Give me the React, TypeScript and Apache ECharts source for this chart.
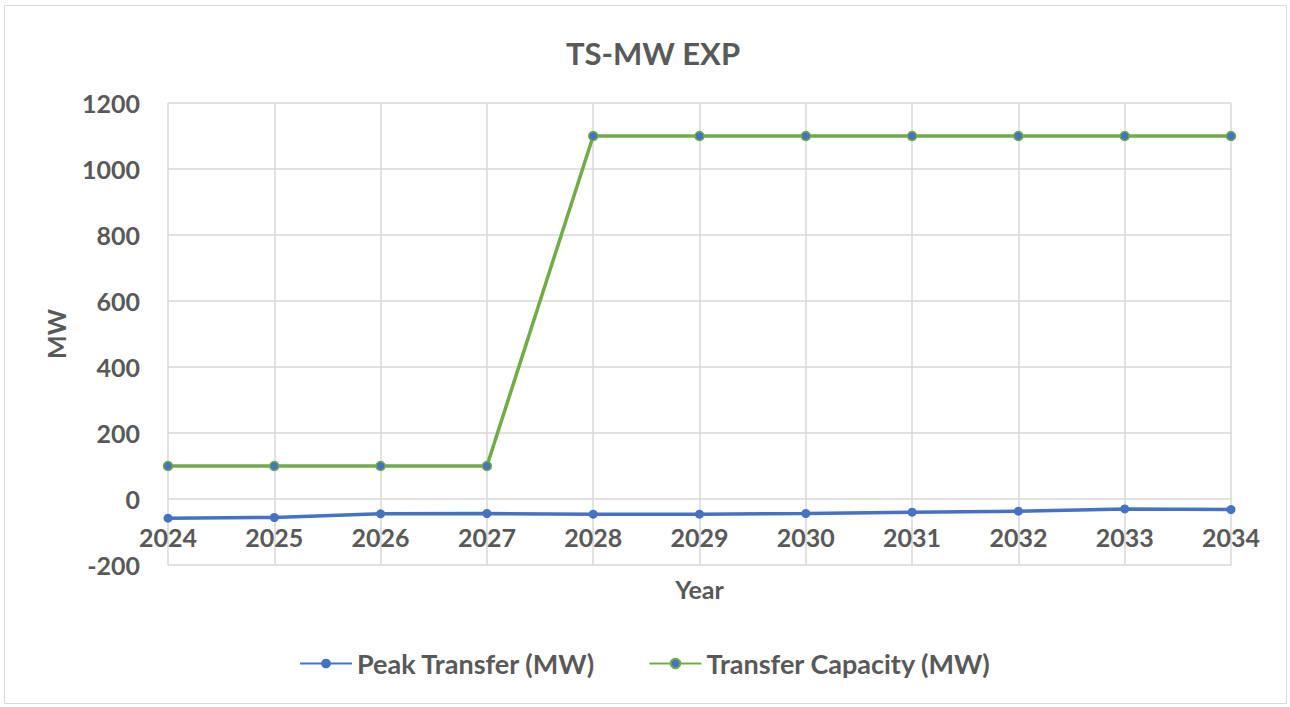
import React, { useEffect, useRef } from "react";
import * as echarts from "echarts";

const years = ["2024", "2025", "2026", "2027", "2028", "2029", "2030", "2031", "2032", "2033", "2034"];
const peakTransfer = [-58, -56, -45, -44, -46, -46, -44, -40, -37, -30, -32];
const transferCapacity = [100, 100, 100, 100, 1100, 1100, 1100, 1100, 1100, 1100, 1100];

const FONT = "Lato, 'Open Sans', sans-serif";
const TXT = "#595959";

export default function App() {
  const ref = useRef<HTMLDivElement>(null);
  useEffect(() => {
    const chart = echarts.init(ref.current!, null, { renderer: "svg" });
    chart.setOption({
      animation: false,
      backgroundColor: "#fff",
      graphic: [
        {
          type: "rect",
          shape: { x: 4.5, y: 5.5, width: 1282, height: 698 },
          style: { fill: "none", stroke: "#d9d9d9", lineWidth: 1 },
          silent: true,
        },
      ],
      title: {
        text: "TS-MW EXP",
        left: 648,
        top: 32,
        textAlign: "center",
        textStyle: { fontFamily: FONT, fontSize: 31, fontWeight: "bold", color: TXT },
      },
      legend: {
        top: 645,
        left: "center",
        itemGap: 53,
        itemWidth: 52,
        itemHeight: 12,
        textStyle: { fontFamily: FONT, fontSize: 27, fontWeight: "bold", color: TXT },
        data: ["Peak Transfer (MW)", "Transfer Capacity (MW)"],
      },
      grid: { left: 168, right: 59, top: 103, bottom: 142, containLabel: false },
      xAxis: {
        type: "category",
        data: years,
        boundaryGap: false,
        name: "Year",
        nameLocation: "middle",
        nameGap: 11,
        nameTextStyle: { fontFamily: FONT, fontSize: 25, fontWeight: "bold", color: TXT, verticalAlign: "top" },
        axisLine: { show: false },
        axisTick: { show: false },
        axisLabel: { margin: -41, verticalAlign: "top", fontFamily: FONT, fontSize: 25, fontWeight: "bold", color: TXT },
        splitLine: { show: true, lineStyle: { color: "#d9d9d9", width: 1.5 } },
      },
      yAxis: {
        type: "value",
        min: -200,
        max: 1200,
        interval: 200,
        name: "MW",
        nameLocation: "middle",
        nameGap: 100,
        nameRotate: 90,
        nameTextStyle: { fontFamily: FONT, fontSize: 25, fontWeight: "bold", color: TXT },
        axisLine: { show: false },
        axisTick: { show: false },
        axisLabel: {
          margin: 28,
          fontFamily: FONT,
          fontSize: 25,
          fontWeight: "bold",
          color: TXT,
          formatter: (v: number) => String(v),
        },
        splitLine: { lineStyle: { color: "#d9d9d9", width: 1.5 } },
      },
      series: [
        {
          name: "Peak Transfer (MW)",
          type: "line",
          data: peakTransfer,
          symbol: "circle",
          symbolSize: 9,
          lineStyle: { color: "#4472C4", width: 3.5 },
          itemStyle: { color: "#4472C4" },
        },
        {
          name: "Transfer Capacity (MW)",
          type: "line",
          data: transferCapacity,
          symbol: "circle",
          symbolSize: 9,
          lineStyle: { color: "#70AD47", width: 3.5 },
          itemStyle: { color: "#4472C4", borderColor: "#70AD47", borderWidth: 1.5 },
        },
      ],
    });
    return () => chart.dispose();
  }, []);
  return (
    <div
      ref={ref}
      style={{ position: "absolute", left: 0, top: 0, width: 1290, height: 707 }}
    />
  );
}
